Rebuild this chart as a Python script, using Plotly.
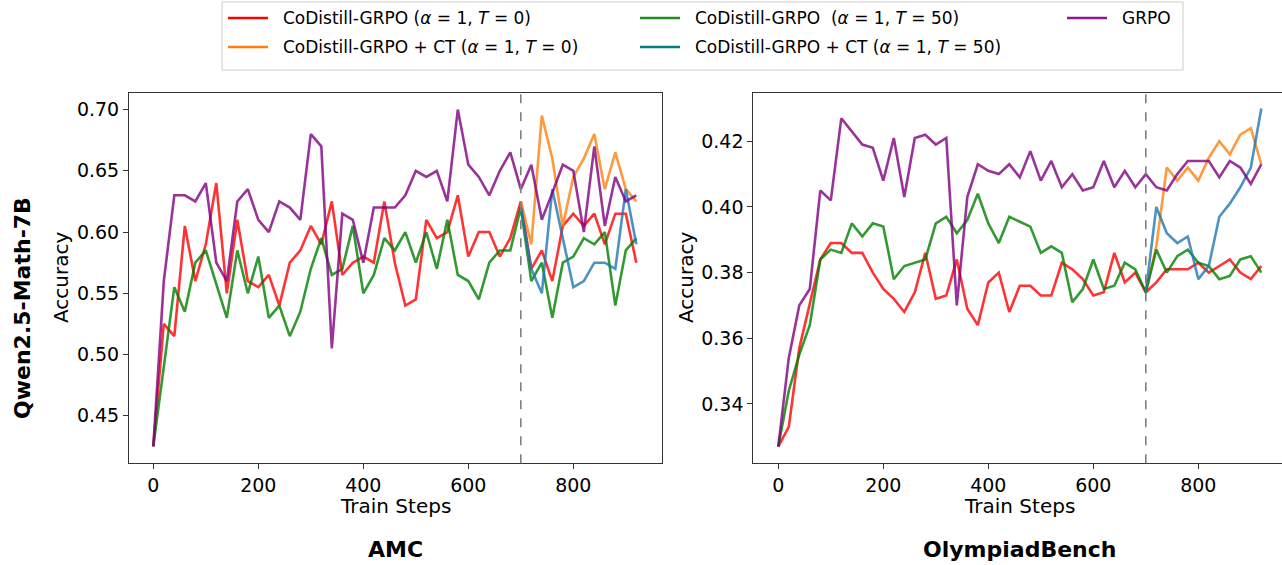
import plotly.graph_objects as go

W, H = 1282, 565

steps = list(range(0, 940, 20))
ct_steps = list(range(700, 940, 20))
switch_step = 700

# ---------------- AMC ----------------
amc_grpo = [0.425, 0.56, 0.63, 0.63, 0.625, 0.64, 0.575, 0.56, 0.625, 0.635, 0.61, 0.60,
            0.625, 0.62, 0.61, 0.68, 0.67, 0.505, 0.615, 0.61, 0.575, 0.62, 0.62, 0.62,
            0.63, 0.65, 0.645, 0.65, 0.625, 0.70, 0.655, 0.645, 0.63, 0.65, 0.665, 0.635,
            0.655, 0.61, 0.632, 0.655, 0.65, 0.60, 0.67, 0.605, 0.645, 0.625, 0.63]
amc_t0 = [0.425, 0.525, 0.515, 0.605, 0.56, 0.59, 0.64, 0.55, 0.61, 0.56, 0.555, 0.565,
          0.54, 0.575, 0.585, 0.605, 0.59, 0.625, 0.565, 0.575, 0.58, 0.575, 0.625, 0.575,
          0.54, 0.545, 0.61, 0.595, 0.60, 0.63, 0.58, 0.60, 0.60, 0.58, 0.595, 0.625,
          0.57, 0.585, 0.56, 0.605, 0.615, 0.605, 0.615, 0.59, 0.615, 0.615, 0.575]
amc_t50 = [0.425, 0.49, 0.555, 0.535, 0.575, 0.585, 0.558, 0.53, 0.585, 0.55, 0.58, 0.53,
           0.54, 0.515, 0.535, 0.57, 0.595, 0.565, 0.57, 0.605, 0.55, 0.565, 0.595, 0.585,
           0.60, 0.575, 0.60, 0.57, 0.61, 0.565, 0.56, 0.545, 0.575, 0.585, 0.585, 0.62,
           0.56, 0.575, 0.53, 0.575, 0.58, 0.595, 0.59, 0.60, 0.54, 0.585, 0.595]
amc_ct_t0 = [0.625, 0.59, 0.695, 0.66, 0.605, 0.645, 0.66, 0.68, 0.635, 0.665, 0.635, 0.625]
amc_ct_t50 = [0.62, 0.57, 0.55, 0.635, 0.595, 0.555, 0.56, 0.575, 0.575, 0.57, 0.635, 0.59]

# ---------------- OlympiadBench ----------------
oly_grpo = [0.327, 0.354, 0.370, 0.375, 0.405, 0.402, 0.427, 0.423, 0.419, 0.418, 0.408, 0.421,
            0.403, 0.421, 0.422, 0.419, 0.421, 0.370, 0.403, 0.413, 0.411, 0.410, 0.413, 0.409,
            0.417, 0.408, 0.414, 0.406, 0.410, 0.405, 0.406, 0.414, 0.406, 0.411, 0.406, 0.410,
            0.406, 0.405, 0.410, 0.414, 0.414, 0.414, 0.409, 0.414, 0.412, 0.407, 0.413]
oly_t0 = [0.327, 0.333, 0.357, 0.371, 0.384, 0.389, 0.389, 0.386, 0.386, 0.380, 0.375, 0.372,
          0.368, 0.374, 0.386, 0.372, 0.373, 0.384, 0.369, 0.364, 0.377, 0.380, 0.368, 0.376,
          0.376, 0.373, 0.373, 0.383, 0.381, 0.378, 0.373, 0.374, 0.386, 0.377, 0.380, 0.374,
          0.377, 0.381, 0.381, 0.381, 0.383, 0.380, 0.382, 0.384, 0.380, 0.378, 0.382]
oly_t50 = [0.327, 0.344, 0.355, 0.364, 0.384, 0.387, 0.386, 0.395, 0.391, 0.395, 0.394, 0.378,
           0.382, 0.383, 0.384, 0.395, 0.397, 0.392, 0.396, 0.404, 0.395, 0.389, 0.397, 0.3955,
           0.394, 0.386, 0.388, 0.386, 0.371, 0.375, 0.384, 0.375, 0.376, 0.383, 0.381, 0.374,
           0.387, 0.380, 0.385, 0.387, 0.383, 0.382, 0.378, 0.379, 0.384, 0.385, 0.380]
oly_ct_t0 = [0.374, 0.388, 0.412, 0.408, 0.412, 0.408, 0.415, 0.420, 0.416, 0.422, 0.424, 0.413]
oly_ct_t50 = [0.374, 0.400, 0.392, 0.389, 0.391, 0.378, 0.382, 0.397, 0.401, 0.406, 0.412, 0.430]

legend_names = ["CoDistill-GRPO (<i>α</i> = 1, <i>T</i> = 0)",
                "CoDistill-GRPO  (<i>α</i> = 1, <i>T</i> = 50)",
                "GRPO",
                "CoDistill-GRPO + CT (<i>α</i> = 1, <i>T</i> = 0)",
                "CoDistill-GRPO + CT (<i>α</i> = 1, <i>T</i> = 50)"]

C_RED = "rgba(255,0,0,0.8)"
C_GREEN = "rgba(0,128,0,0.8)"
C_PURPLE = "rgba(128,0,128,0.8)"
C_ORANGE = "rgba(255,127,14,0.8)"
C_BLUE = "rgba(31,119,180,0.8)"
legend_colors = ["#ff0000", "#228b22", "#8b1a8b", "#ff7f0e", "#008080"]

FONT = "DejaVu Sans"
LW = 2.6

fig = go.Figure()

panels = [
    ("x", "y", amc_t0, amc_t50, amc_ct_t0, amc_ct_t50, amc_grpo),
    ("x2", "y2", oly_t0, oly_t50, oly_ct_t0, oly_ct_t50, oly_grpo),
]
for xa, ya, t0, t50, ct0, ct50, grpo in panels:
    fig.add_trace(go.Scatter(x=steps, y=t0, mode="lines", line=dict(color=C_RED, width=LW),
                             xaxis=xa, yaxis=ya, showlegend=False))
    fig.add_trace(go.Scatter(x=ct_steps, y=ct0, mode="lines", line=dict(color=C_ORANGE, width=LW),
                             xaxis=xa, yaxis=ya, showlegend=False))
    fig.add_trace(go.Scatter(x=steps, y=t50, mode="lines", line=dict(color=C_GREEN, width=LW),
                             xaxis=xa, yaxis=ya, showlegend=False))
    fig.add_trace(go.Scatter(x=ct_steps, y=ct50, mode="lines", line=dict(color=C_BLUE, width=LW),
                             xaxis=xa, yaxis=ya, showlegend=False))
    fig.add_trace(go.Scatter(x=steps, y=grpo, mode="lines", line=dict(color=C_PURPLE, width=LW),
                             xaxis=xa, yaxis=ya, showlegend=False))
    fig.add_shape(type="line", xref=xa, yref=ya + " domain", x0=switch_step, x1=switch_step,
                  y0=0, y1=1, line=dict(color="gray", width=1.6, dash="dash"))


def pxx(x):
    return x / W


def pyy(y):
    return 1 - y / H


top, bottom = 92.7, 463.3
axis_common = dict(showline=True, linecolor="#333", linewidth=1, mirror=True, ticks="outside",
                   ticklen=5, tickcolor="#333", showgrid=False, zeroline=False,
                   tickfont=dict(family=FONT, size=19, color="black"))

fig.update_layout(
    width=W, height=H, margin=dict(l=0, r=0, t=0, b=0),
    paper_bgcolor="white", plot_bgcolor="white", showlegend=False, hovermode=False,
    xaxis=dict(domain=[pxx(129), pxx(662.3)], range=[-46.3, 969.5],
               tickvals=[0, 200, 400, 600, 800], anchor="y", **axis_common),
    yaxis=dict(domain=[pyy(bottom), pyy(top)], range=[0.41125, 0.71375],
               tickvals=[0.45, 0.50, 0.55, 0.60, 0.65, 0.70], tickformat=".2f",
               anchor="x", **axis_common),
    xaxis2=dict(domain=[pxx(753.3), 1.0], range=[-47.6, 959.4],
                tickvals=[0, 200, 400, 600, 800], anchor="y2", **axis_common),
    yaxis2=dict(domain=[pyy(bottom), pyy(top)], range=[0.3219, 0.4348],
                tickvals=[0.34, 0.36, 0.38, 0.40, 0.42], tickformat=".2f",
                anchor="x2", **axis_common),
)


def label(x, y, text, size, angle=0, xanchor="center"):
    return dict(x=pxx(x), y=pyy(y), text=text, textangle=angle, showarrow=False,
                xref="paper", yref="paper", xanchor=xanchor, yanchor="middle",
                font=dict(family=FONT, size=size, color="black"))


annots = []
for cx, name in [(395.5, "AMC"), (1019.7, "OlympiadBench")]:
    annots.append(label(cx, 506, "Train Steps", 20))
    annots.append(label(cx, 549, "<b>%s</b>" % name, 22))
for cx in [61, 686]:
    annots.append(label(cx, 278, "Accuracy", 20, angle=-90))
annots.append(label(22, 308, "<b>Qwen2.5-Math-7B</b>", 22, angle=-90))

# legend (manual, matplotlib-like layout: 3 columns)
leg_pos = [(228, 18), (640, 18), (1067, 18), (228, 47), (640, 47)]
shapes = [dict(type="rect", xref="paper", yref="paper", x0=pxx(222), x1=pxx(1183),
               y0=pyy(70), y1=pyy(2), line=dict(color="#cccccc", width=1),
               fillcolor="rgba(255,255,255,0.8)", layer="above")]
for (lx, ly), name, col in zip(leg_pos, legend_names, legend_colors):
    shapes.append(dict(type="line", xref="paper", yref="paper", x0=pxx(lx), x1=pxx(lx + 40),
                       y0=pyy(ly), y1=pyy(ly), line=dict(color=col, width=2.6), layer="above"))
    annots.append(label(lx + 53, ly, name, 17, xanchor="left"))

for s in shapes:
    fig.add_shape(**s)
fig.update_layout(annotations=annots)

fig.write_html("out.html", config={"displayModeBar": False},
               post_script="document.body.style.margin='0';document.body.style.overflow='hidden';")
